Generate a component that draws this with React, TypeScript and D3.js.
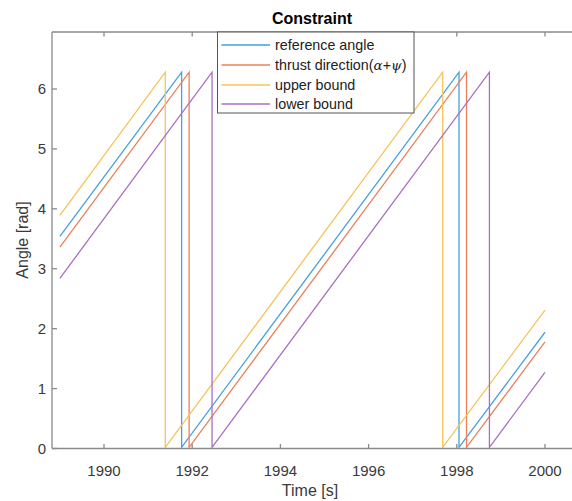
import React from "react";
import * as d3 from "d3";

const xTicks = [1990, 1992, 1994, 1996, 1998, 2000];
const yTicks = [0, 1, 2, 3, 4, 5, 6];

const refTime = [1989, 1991.76, 1991.76, 1998.05, 1998.05, 2000];
const refAngle = [3.54, 6.28, 0.02, 6.28, 0.02, 1.94];
const thrustTime = [1989, 1991.93, 1991.93, 1998.22, 1998.22, 2000];
const thrustAngle = [3.36, 6.28, 0.02, 6.28, 0.02, 1.78];
const upperTime = [1989, 1991.39, 1991.39, 1997.68, 1997.68, 2000];
const upperAngle = [3.89, 6.28, 0.02, 6.28, 0.02, 2.31];
const lowerTime = [1989, 1992.45, 1992.45, 1998.74, 1998.74, 2000];
const lowerAngle = [2.84, 6.28, 0.02, 6.28, 0.02, 1.27];

const seriesNames = ["reference angle", "thrust direction", "upper bound", "lower bound"];
const seriesColors = ["#45a0db", "#ec8059", "#f4c458", "#aa6fc0"];

const W = 572;
const H = 501;
const left = 52;
const right = 574;
const top = 32;
const bottom = 448.5;

export default function App() {
  const x = d3.scaleLinear().domain([1990, 2000]).range([104, 545]);
  const y = d3.scaleLinear().domain([0, 6]).range([448.5, 89]);
  const line = d3
    .line<[number, number]>()
    .x((d) => x(d[0]))
    .y((d) => y(d[1]));
  const series = [
    [refTime, refAngle],
    [thrustTime, thrustAngle],
    [upperTime, upperAngle],
    [lowerTime, lowerAngle],
  ].map(([t, v]) => t.map((ti, i) => [ti, v[i]] as [number, number]));

  const axisColor = "#8a8a8a";
  const labelColor = "#3a3a3a";
  const font = "'Liberation Sans', Arial, Helvetica, sans-serif";
  const cx = (left + 568) / 2;

  const legX = 217.5;
  const legY = 32;
  const legW = 196.5;
  const legH = 81;
  const rowY = [45, 65, 85, 104];

  return (
    <svg
      width={W}
      height={H}
      style={{ position: "absolute", left: 0, top: 0, background: "#fff" }}
      fontFamily={font}
    >
      <rect x={0} y={0} width={W} height={H} fill="#fff" />
      <defs>
        <clipPath id="plotclip">
          <rect x={left} y={top} width={right - left} height={bottom - top} />
        </clipPath>
      </defs>
      <g clipPath="url(#plotclip)">
        {series.map((s, i) => (
          <path
            key={i}
            d={line(s) || ""}
            fill="none"
            stroke={seriesColors[i]}
            strokeWidth={1.3}
          />
        ))}
      </g>
      {/* axes box */}
      <g stroke={axisColor} strokeWidth={1.3} fill="none">
        <line x1={left} y1={top} x2={right} y2={top} />
        <line x1={left} y1={bottom} x2={right} y2={bottom} />
        <line x1={left} y1={top} x2={left} y2={bottom} />
        {xTicks.map((t) => (
          <g key={t}>
            <line x1={x(t)} x2={x(t)} y1={bottom} y2={bottom - 4.5} />
            <line x1={x(t)} x2={x(t)} y1={top} y2={top + 4.5} />
          </g>
        ))}
        {yTicks.map((t) => (
          <line key={t} x1={left} x2={left + 5} y1={y(t)} y2={y(t)} />
        ))}
      </g>
      {/* tick labels */}
      <g fill={labelColor} fontSize={15}>
        {xTicks.map((t) => (
          <text key={t} x={x(t)} y={bottom + 27} textAnchor="middle">
            {t}
          </text>
        ))}
        {yTicks.map((t) => (
          <text key={t} x={left - 6} y={y(t) + 5} textAnchor="end">
            {t}
          </text>
        ))}
      </g>
      <text x={cx} y={496} textAnchor="middle" fontSize={16} fill={labelColor}>
        Time [s]
      </text>
      <text
        transform={`translate(28,240) rotate(-90)`}
        textAnchor="middle"
        fontSize={16}
        fill={labelColor}
      >
        Angle [rad]
      </text>
      <text x={312} y={24} textAnchor="middle" fontSize={16} fontWeight="bold" fill="#000">
        Constraint
      </text>
      {/* legend */}
      <rect x={legX} y={legY} width={legW} height={legH} fill="#fff" stroke="#555" strokeWidth={1} />
      {seriesNames.map((name, i) => (
        <g key={i}>
          <line
            x1={221.5}
            x2={270}
            y1={rowY[i]}
            y2={rowY[i]}
            stroke={seriesColors[i]}
            strokeWidth={1.3}
          />
          <text x={275} y={rowY[i] + 5} fontSize={14.3} fill="#222">
            {name}
            {i === 1 ? (
              <>
                <tspan>(</tspan>
                <tspan fontFamily="'DejaVu Serif', 'Liberation Serif', serif" fontStyle="italic" fontSize={13.5}>
                  α
                </tspan>
                <tspan>+</tspan>
                <tspan fontFamily="'DejaVu Serif', 'Liberation Serif', serif" fontStyle="italic" fontSize={13.5}>
                  ψ
                </tspan>
                <tspan>)</tspan>
              </>
            ) : null}
          </text>
        </g>
      ))}
    </svg>
  );
}
